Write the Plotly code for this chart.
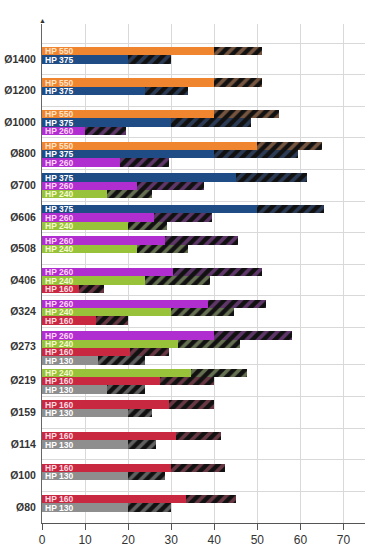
import plotly.graph_objects as go

# ---------------- data ----------------
groups = ["Ø1400", "Ø1200", "Ø1000", "Ø800", "Ø700", "Ø606", "Ø508", "Ø406",
          "Ø324", "Ø273", "Ø219", "Ø159", "Ø114", "Ø100", "Ø80"]

series = ["HP 550", "HP 375", "HP 260", "HP 240", "HP 160", "HP 130"]

# minimum (solid part) / maximum (hatched end) per group, None = model not offered
hp550_min = [40, 40, 40, 50, None, None, None, None, None, None, None, None, None, None, None]
hp550_max = [51, 51, 55, 65, None, None, None, None, None, None, None, None, None, None, None]
hp375_min = [20, 24, 30, 40, 45, 50, None, None, None, None, None, None, None, None, None]
hp375_max = [30, 34, 48.5, 59.5, 61.5, 65.5, None, None, None, None, None, None, None, None, None]
hp260_min = [None, None, 10, 18, 22, 26, 28.5, 30.5, 38.5, 40, None, None, None, None, None]
hp260_max = [None, None, 19.5, 29.5, 37.5, 39.5, 45.5, 51, 52, 58, None, None, None, None, None]
hp240_min = [None, None, None, None, 15, 20, 22, 24, 30, 31.5, 34.5, None, None, None, None]
hp240_max = [None, None, None, None, 25.5, 29, 34, 39, 44.5, 46, 47.5, None, None, None, None]
hp160_min = [None, None, None, None, None, None, None, 8.5, 12.5, 20.5, 27.5, 29.5, 31, 30, 33.5]
hp160_max = [None, None, None, None, None, None, None, 14.5, 20, 29.5, 40, 40, 41.5, 42.5, 45]
hp130_min = [None, None, None, None, None, None, None, None, None, 13, 15, 20, 20, 20, 20]
hp130_max = [None, None, None, None, None, None, None, None, None, 24, 24, 25.5, 26.5, 28.5, 30]

x_ticks = [0, 10, 20, 30, 40, 50, 60, 70]

mins = [hp550_min, hp375_min, hp260_min, hp240_min, hp160_min, hp130_min]
maxs = [hp550_max, hp375_max, hp260_max, hp240_max, hp160_max, hp130_max]

# ---------------- styles ----------------
solid_col = ["#F0852F", "#1F4C85", "#B02ED0", "#98C23A", "#C82840", "#8E8E8E"]
stripe_col = ["#DA9A6E", "#46669A", "#AE5CC2", "#BAD092", "#BE5E76", "#B0B0B0"]
text_col = ["#FFE2C4", "#FFFFFF", "#FFD3F6", "#F4FACC", "#FFD8E0", "#FFFFFF"]
FONT = "Liberation Sans, Arial, sans-serif"

# ---------------- layout of bar slots (derived from data) ----------------
pos = {s: [None] * len(groups) for s in series}
centers, bounds = [], []
cursor = 0.0
for gi, g in enumerate(groups):
    members = [si for si in range(len(series)) if mins[si][gi] is not None]
    n = len(members)
    h = max(n + 0.5, 3.8)
    bounds.append(cursor)
    for k, si in enumerate(members):
        pos[series[si]][gi] = cursor + 0.45 + k + 0.5
    centers.append(cursor + h / 2)
    cursor += h
bounds.append(cursor)

fig = go.Figure()
for si, s in enumerate(series):
    ys, base_x, ext_x, ext_base = [], [], [], []
    for gi in range(len(groups)):
        if mins[si][gi] is None:
            continue
        ys.append(pos[s][gi])
        base_x.append(mins[si][gi])
        ext_x.append(maxs[si][gi] - mins[si][gi])
        ext_base.append(mins[si][gi])
    fig.add_trace(go.Bar(
        y=ys, x=base_x, orientation="h", width=1.0, name=s,
        marker=dict(color=solid_col[si], line=dict(width=0)),
        text=[s] * len(ys), textposition="inside", insidetextanchor="start",
        textfont=dict(family=FONT, size=8.5, color=text_col[si], weight="bold"),
        showlegend=False, hoverinfo="skip"))
    fig.add_trace(go.Bar(
        y=ys, x=ext_x, base=ext_base, orientation="h", width=1.0, name=s + " max",
        marker=dict(color="#111111", line=dict(width=0),
                    pattern=dict(shape="/", fgcolor=stripe_col[si], bgcolor="#111111",
                                 size=8, solidity=0.45)),
        showlegend=False, hoverinfo="skip"))

fig.add_annotation(x=0, y=1, xref="x", yref="paper", text="▲", showarrow=False,
                   yanchor="bottom", xanchor="center", yshift=-3,
                   font=dict(size=7, color="#333333"))

fig.update_layout(
    width=368, height=552,
    margin=dict(l=42, r=3, t=24, b=29),
    paper_bgcolor="white", plot_bgcolor="white",
    barmode="overlay", bargap=0,
    uniformtext=dict(minsize=8.5, mode="show"),
    xaxis=dict(range=[0, 75], tickvals=x_ticks, showgrid=True, gridcolor="#d9d9d9",
               gridwidth=1, zeroline=False, showline=True, linecolor="#555555",
               ticks="outside", ticklen=6, tickcolor="#555555",
               tickfont=dict(family=FONT, size=12, color="#333333")),
    yaxis=dict(range=[cursor, -2.3], tickvals=centers, ticktext=groups,
               showgrid=False, zeroline=False, showline=True, linecolor="#666666",
               ticks="outside", ticklen=3, tickcolor="rgba(0,0,0,0)", automargin=False,
               tickfont=dict(family=FONT, size=10.5, color="#333333", weight="bold"),
               minor=dict(tickmode="array", tickvals=bounds, showgrid=True,
                          gridcolor="#d9d9d9", gridwidth=1, ticks="")),
)

fig.write_html("out.html", config={"displayModeBar": False},
               post_script="document.body.style.margin='0';")
